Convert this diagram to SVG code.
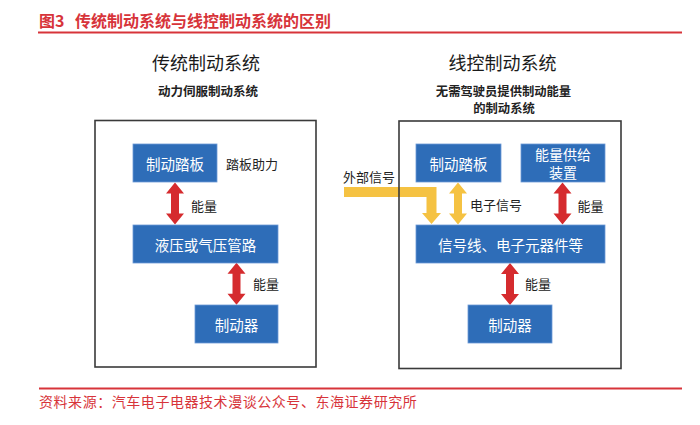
<svg xmlns="http://www.w3.org/2000/svg" width="700" height="425" viewBox="0 0 700 425">
<defs>
<style>
text{font-family:"Noto Sans CJK SC","Noto Sans",sans-serif;dominant-baseline:central}
.title{font-size:16px;font-weight:bold;fill:#d7343a}
.foot{font-size:14px;letter-spacing:0.55px;fill:#d7343a}
.rule{stroke:#d7343a;stroke-width:2.2}
.h1{font-size:18px;fill:#1a1a1a;text-anchor:middle}
.h2{font-size:12.5px;font-weight:bold;fill:#222;text-anchor:middle}
.h2b{font-size:12.3px;font-weight:bold;fill:#222;text-anchor:middle}
.frame{fill:none;stroke:#3a3a3a;stroke-width:1.6}
.box{fill:#2e6db8;stroke:#6d9ad6;stroke-width:0.8}
.bt{font-size:14.5px;fill:#ffffff;text-anchor:middle}
.bt2{font-size:14px;fill:#ffffff;text-anchor:middle}
.lbl{font-size:13px;fill:#222}
.red{fill:#d52b2e}
.yel{fill:#f5c242}
</style>
<path id="dbl" d="M0,0 L9,11 L4,11 L4,31 L9,31 L0,42 L-9,31 L-4,31 L-4,11 L-9,11 Z"/>
</defs>
<rect width="700" height="425" fill="#ffffff"/>

<g id="header">
<text class="title" x="39" y="20">图3<tspan x="75">传统制动系统与线控制动系统的区别</tspan></text>
<line class="rule" x1="38" y1="32.5" x2="682" y2="32.5"/>
</g>

<g id="headings">
<text class="h1" x="206" y="61.5">传统制动系统</text>
<text class="h2" x="208" y="90">动力伺服制动系统</text>
<text class="h1" x="502.5" y="61.5">线控制动系统</text>
<text class="h2b" x="503.5" y="91">无需驾驶员提供制动能量</text>
<text class="h2b" x="504" y="107.5">的制动系统</text>
</g>

<g id="connectors">
<use href="#dbl" class="red" x="175" y="182.5"/>
<use href="#dbl" class="red" x="236.5" y="262.8"/>
<use href="#dbl" class="yel" x="458" y="182.5"/>
<use href="#dbl" class="red" x="562.5" y="182.5"/>
<use href="#dbl" class="red" x="510" y="263"/>
<path class="yel" d="M344,187 L436.5,187 L436.5,213 L441,213 L431.5,224 L422,213 L426.5,213 L426.5,197 L344,197 Z"/>
<text class="lbl" x="191" y="205">能量</text>
<text class="lbl" x="253" y="283">能量</text>
<text class="lbl" x="470" y="204">电子信号</text>
<text class="lbl" x="577.5" y="205">能量</text>
<text class="lbl" x="525" y="283">能量</text>
<text class="lbl" x="343" y="176.5">外部信号</text>
</g>

<g id="frame-left"><rect class="frame" x="95" y="120.5" width="221" height="246.5"/></g>
<g id="frame-right"><rect class="frame" x="399" y="121" width="222" height="247.5"/></g>

<g id="l-pedal">
<rect class="box" x="133" y="144" width="84" height="38"/>
<text class="bt" x="175" y="163">制动踏板</text>
<text class="lbl" x="226" y="163">踏板助力</text>
</g>
<g id="l-pipe">
<rect class="box" x="133" y="225" width="145" height="38"/>
<text class="bt" x="205.5" y="244">液压或气压管路</text>
</g>
<g id="l-brake">
<rect class="box" x="195" y="305" width="83" height="38"/>
<text class="bt" x="236.5" y="324">制动器</text>
</g>

<g id="r-pedal">
<rect class="box" x="416" y="144" width="85" height="38"/>
<text class="bt" x="458.5" y="163">制动踏板</text>
</g>
<g id="r-energy">
<rect class="box" x="521" y="144" width="84" height="38"/>
<text class="bt2" x="563" y="153.5">能量供给</text>
<text class="bt2" x="563" y="172">装置</text>
</g>
<g id="r-signal">
<rect class="box" x="416" y="225" width="189" height="38"/>
<text class="bt" x="510.5" y="244">信号线、电子元器件等</text>
</g>
<g id="r-brake">
<rect class="box" x="468" y="305" width="84" height="38"/>
<text class="bt" x="510" y="324">制动器</text>
</g>

<g id="footer">
<line class="rule" x1="39" y1="388.5" x2="682" y2="388.5"/>
<text class="foot" x="39" y="400.5">资料来源：汽车电子电器技术漫谈公众号、东海证券研究所</text>
</g>
</svg>
